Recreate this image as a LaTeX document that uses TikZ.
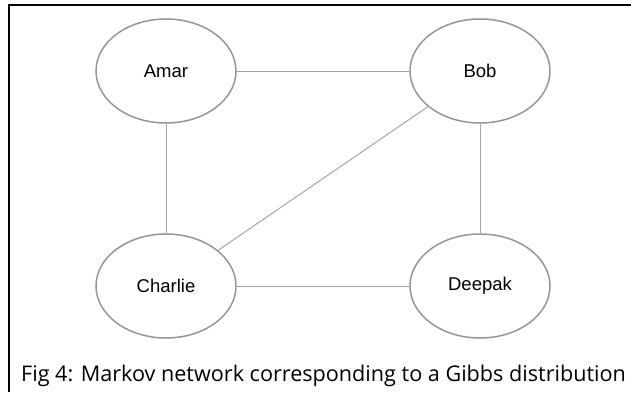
\documentclass[tikz,border=0pt]{standalone}
\usepackage{fontspec}
\setmainfont{Liberation Sans}
\newfontfamily\capfont{Open Sans}
\usetikzlibrary{shapes.geometric}
\definecolor{edgegray}{RGB}{165,165,165}
\definecolor{nodegray}{RGB}{150,150,150}

\begin{document}
\begin{tikzpicture}[x=1pt,y=1pt]
		\useasboundingbox (0,0) rectangle (631,392);
		\draw[line width=1.6pt] (9,0) -- (9,387) -- (631,387);

		\begin{scope}[every node/.style={ellipse,draw=nodegray,line width=1.5pt,
		              minimum width=140pt,minimum height=104pt,
		              font=\fontsize{18.5}{22}\selectfont}]
		    \node (amar) at (166,321) {Amar};
		    \node (bob) at (480,321) {Bob};
		    \node (charlie) at (166,106) {Charlie};
		    \node (deepak) at (480,106) {Deepak};
		\end{scope}

		\begin{scope}[every edge/.style={draw=edgegray,line width=1pt}]
		    	\path (amar) edge (bob);
		    	\path (amar) edge (charlie);
		    	\path (bob) edge (deepak);
		    	\path (charlie) edge (bob);
		    	\path (charlie) edge (deepak);
		\end{scope}

		\node[anchor=base west,inner sep=0pt,font=\capfont\fontsize{21.6}{25}\selectfont]
		    (caption) at (21,11) {Fig 4: Markov network corresponding to a Gibbs distribution};
		\end{tikzpicture}
\end{document}
